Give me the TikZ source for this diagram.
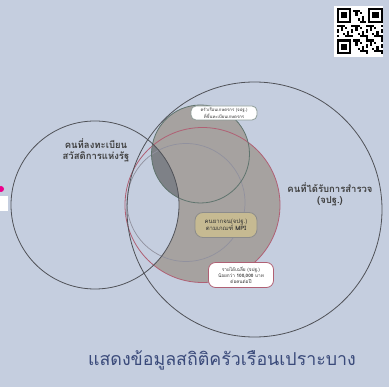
\documentclass[tikz,border=0pt]{standalone}
\usepackage{fontspec}
\newfontfamily\thai[Script=Thai]{Loma}
\definecolor{bgblue}{RGB}{197,206,223}
\definecolor{venngrey}{RGB}{166,162,160}
\definecolor{venndark}{RGB}{126,129,135}
\definecolor{ringdark}{RGB}{80,82,88}
\definecolor{ringgreen}{RGB}{96,116,110}
\definecolor{ringpink}{RGB}{176,96,116}
\definecolor{ringgrey}{RGB}{145,145,158}
\definecolor{mpitan}{RGB}{198,186,146}
\definecolor{titleblue}{RGB}{58,74,122}
\tikzset{
  biglabel/.style={font=\thai\bfseries\fontsize{9.5}{11}\selectfont,text=black!75,align=center},
  tag/.style={rounded corners=5pt,line width=0.8pt,align=center,inner sep=1.5pt,text=black!80}
}
\begin{document}
\begin{tikzpicture}[x=1pt,y=-1pt]

\useasboundingbox (0,0) rectangle (389,387);
\fill[bgblue] (0,0) rectangle (389,387);

\fill[venngrey] (202.5,205) circle (77.5);
\begin{scope}
\clip (202.5,205) circle (77.5);
\fill[bgblue] (95,205) circle (84);
\end{scope}
\fill[venngrey] (200.5,154) circle (49);
\begin{scope}
\clip (200.5,154) circle (49);
\fill[venndark] (95,205) circle (84);
\end{scope}

\draw[ringgrey,line width=0.7pt] (186,202.5) circle (59);
\draw[ringpink,line width=0.8pt] (202.5,205) circle (77.5);
\draw[ringgreen,line width=0.8pt] (200.5,154) circle (49);
\draw[ringdark,line width=0.8pt] (95,205) circle (84);
\draw[ringdark,line width=0.8pt] (254.5,209.5) circle (127.5);

\node[biglabel] (register) at (96,150) {คนที่ลงทะเบียน\\สวัสดิการแห่งรัฐ};
\node[biglabel] (survey) at (330,194) {คนที่ได้รับการสำรวจ\\(จปฐ.)};

\node[tag,draw=ringgreen!70,fill=white,minimum width=66pt,minimum height=14pt,font=\thai\fontsize{4.3}{4.8}\selectfont] (farmer) at (224,113) {ครัวเรือนเกษตรกร (จปฐ.)\\ที่ขึ้นทะเบียนเกษตรกร};
\node[tag,draw=black!45,fill=mpitan,minimum width=62pt,minimum height=25pt,rounded corners=8pt,font=\thai\fontsize{6}{7}\selectfont] (mpi) at (226,225) {คนยากจน(จปฐ.)\\ตามเกณฑ์ \textbf{MPI}};
\node[tag,draw=ringpink,fill=white,minimum width=65pt,minimum height=25pt,rounded corners=7pt,font=\thai\fontsize{4.7}{5.6}\selectfont] (income) at (241,275) {รายได้เฉลี่ย (จปฐ.)\\น้อยกว่า \textbf{100,000} บาท\\ต่อคนต่อปี};

\node[text=titleblue,font=\thai\fontsize{17.8}{20}\selectfont] (title) at (222,360) {แสดงข้อมูลสถิติครัวเรือนเปราะบาง};

\fill[magenta] (1,189) circle (3);
\fill[white] (-3,196) rectangle (8,211);

\fill[white] (334,6) rectangle (383,57);
\begin{scope}[shift={(336.5,8)},x=2.1pt,y=-2.1pt]
\foreach \i in {0,...,21}{
  \foreach \j in {0,...,21}{
    \pgfmathtruncatemacro\q{mod(3*\i*\i+7*\j+5*\i*\j+\j*\j,7)}
    \ifnum\q<3 \fill (\i,\j) rectangle +(1,1); \fi
  }
}
\fill[white] (0,0) rectangle (8,8);
\fill[white] (14,0) rectangle (22,8);
\fill[white] (0,14) rectangle (8,22);
\foreach \a/\b in {0/0,15/0,0/15}{
  \fill (\a,\b) rectangle +(7,7);
  \fill[white] (\a+1,\b+1) rectangle +(5,5);
  \fill (\a+2,\b+2) rectangle +(3,3);
}
\end{scope}

\end{tikzpicture}
\end{document}
